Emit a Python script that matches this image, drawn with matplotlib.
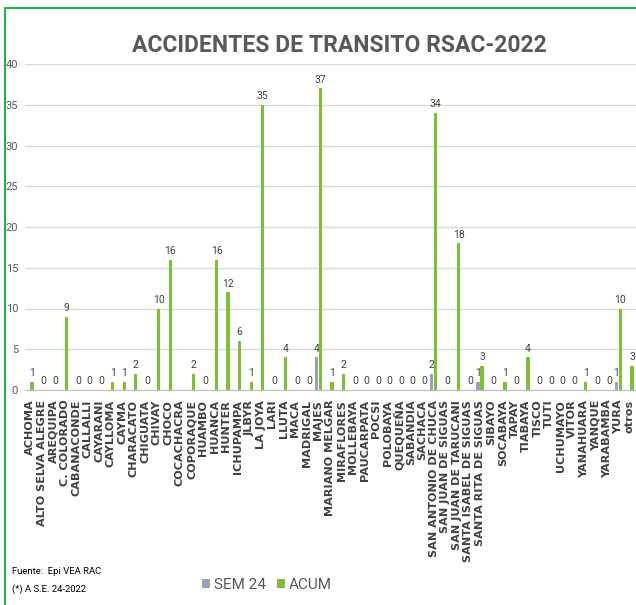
import numpy as np
import matplotlib
matplotlib.use("Agg")
import matplotlib.pyplot as plt
from matplotlib.lines import Line2D

# ---------------------------------------------------------------
# data
# ---------------------------------------------------------------
distritos = [
    "ACHOMA", "ALTO SELVA ALEGRE", "AREQUIPA", "C. COLORADO", "CABANACONDE",
    "CALLALLI", "CAYARANI", "CAYLLOMA", "CAYMA", "CHARACATO", "CHIGUATA",
    "CHIVAY", "CHOCO", "COCACHACRA", "COPORAQUE", "HUAMBO", "HUANCA",
    "HUNTER", "ICHUPAMPA", "JLBYR", "LA JOYA", "LARI", "LLUTA", "MACA",
    "MADRIGAL", "MAJES", "MARIANO MELGAR", "MIRAFLORES", "MOLLEBAYA",
    "PAUCARPATA", "POCSI", "POLOBAYA", "QUEQUEÑA", "SABANDIA", "SACHACA",
    "SAN ANTONIO DE CHUCA", "SAN JUAN DE SIGUAS", "SAN JUAN DE TARUCANI",
    "SANTA ISABEL DE SIGUAS", "SANTA RITA DE SIGUAS", "SIBAYO", "SOCABAYA",
    "TAPAY", "TIABAYA", "TISCO", "TUTI", "UCHUMAYO", "VITOR", "YANAHUARA",
    "YANQUE", "YARABAMBA", "YURA", "otros",
]

# None = no value in the source table
sem24 = [None] * len(distritos)
sem24[distritos.index("MAJES")] = 4
sem24[distritos.index("SAN ANTONIO DE CHUCA")] = 2
sem24[distritos.index("SANTA RITA DE SIGUAS")] = 1
sem24[distritos.index("YURA")] = 1

acum = [1, 0, 0, 9, 0, 0, 0, 1, 1, 2, 0,
        10, 16, None, 2, 0, 16,
        12, 6, 1, 35, 0, 4, 0,
        0, 37, 1, 2, 0,
        0, 0, 0, 0, 0, 0,
        34, 0, 18,
        0, 3, 0, 1,
        0, 4, 0, 0, 0, 0, 1,
        0, 0, 10, 3]

yticks = [0, 5, 10, 15, 20, 25, 30, 35, 40]

# ---------------------------------------------------------------
# plot
# ---------------------------------------------------------------
VERDE = "#7DBE3A"
GRIS = "#95A3B8"
TXT = "#595959"
narrow = ["Roboto", "DejaVu Sans"]

fig = plt.figure(figsize=(6.36, 6.05), dpi=100)
ax = fig.add_axes([25 / 636, 1 - 390 / 605, 611 / 636, 326 / 605])

x = np.arange(len(distritos))
off, w = 0.17, 0.28

sem_v = np.array([np.nan if v is None else v for v in sem24], dtype=float)
acu_v = np.array([np.nan if v is None else v for v in acum], dtype=float)

ax.bar(x - off, np.nan_to_num(sem_v), width=w, color=GRIS, label="SEM 24", zorder=3)
ax.bar(x + off, np.nan_to_num(acu_v), width=w, color=VERDE, label="ACUM", zorder=3)

# data labels
for i in x:
    if not np.isnan(sem_v[i]):
        ax.text(i - off, sem_v[i] + 0.45, f"{int(sem_v[i])}", ha="center", va="bottom",
                fontsize=7.5, color="#404040", family=narrow)
    if not np.isnan(acu_v[i]):
        ax.text(i + off, acu_v[i] + 0.45, f"{int(acu_v[i])}", ha="center", va="bottom",
                fontsize=7.5, color="#404040", family=narrow)

ax.set_xlim(-0.43, 52.52)
ax.set_ylim(0, 40)
ax.set_yticks(yticks)
ax.set_yticklabels([str(t) for t in yticks], family=narrow, fontsize=8, color=TXT)
ax.set_xticks(x)
ax.set_xticklabels(distritos, rotation=90, fontweight="bold", fontsize=8.1, color="#404040")
ax.tick_params(axis="both", length=0)
ax.tick_params(axis="y", pad=5)
ax.tick_params(axis="x", pad=7)

ax.grid(axis="y", color="#D9D9D9", linewidth=1, zorder=0)
for s in ["left", "right", "top"]:
    ax.spines[s].set_visible(False)
ax.spines["bottom"].set_color("#BFBFBF")

fig.text(339 / 636, 1 - 46 / 605, "ACCIDENTES DE TRANSITO RSAC-2022", ha="center", va="center",
         fontsize=16.5, fontweight="bold", color=TXT, family=narrow)

fig.text(12 / 636, 1 - 571 / 605, "Fuente:  Epi VEA RAC", ha="left", va="center",
         fontsize=6.8, color="black", family=narrow)
fig.text(12 / 636, 1 - 589 / 605, "(*) A S.E. 24-2022", ha="left", va="center",
         fontsize=6.8, color="black", family=narrow)

fig.legend(loc="center", bbox_to_anchor=(267 / 636, 1 - 585 / 605), ncol=2, frameon=False,
           prop={"family": narrow, "size": 11}, handlelength=0.55, handleheight=0.55,
           handletextpad=0.25, columnspacing=0.7, labelcolor=TXT)

# green frame (left + top edges visible)
fig.add_artist(Line2D([5 / 636, 5 / 636, 1.0], [0.0, 1 - 8 / 605, 1 - 8 / 605],
                      transform=fig.transFigure, color="#22B04B", linewidth=1.5))

fig.savefig("out.png", dpi=100)
